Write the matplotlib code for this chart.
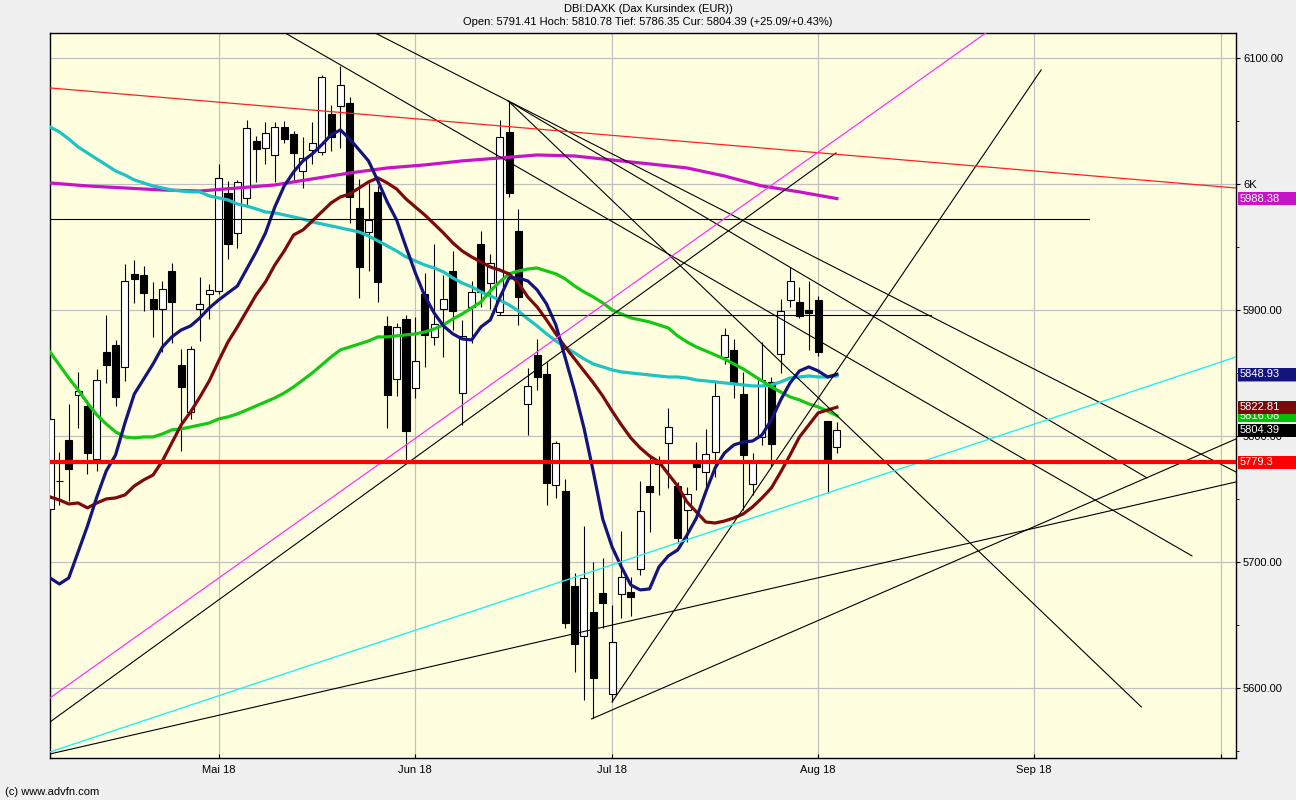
import matplotlib
matplotlib.use("Agg")
import matplotlib.pyplot as plt
from matplotlib.patches import Rectangle
from matplotlib import transforms

plt.rcParams["font.family"] = ["Liberation Sans", "DejaVu Sans"]

# daily candles, x = trading-day index (0 = first visible day)
opens = [5742.0, 5764.5, 5797.0, 5832.5, 5824.0, 5781.7, 5866.7, 5872.0, 5854.8, 5928.6,
         5928.0, 5908.7, 5900.8, 5931.0, 5856.0, 5819.0, 5900.8, 5912.7, 5915.0, 5992.9,
         5961.0, 5988.9, 6034.0, 6028.6, 6023.0, 6045.0, 6039.7, 6010.3, 6027.0, 6025.4,
         6055.6, 6061.9, 6064.3, 5981.0, 5962.0, 5993.7, 5887.3, 5845.0, 5893.0, 5838.0,
         5912.7, 5878.6, 5900.8, 5931.0, 5834.0, 5902.4, 5952.4, 5921.4, 5898.4, 6041.0,
         5962.7, 5825.4, 5864.3, 5849.0, 5761.0, 5756.3, 5681.0, 5641.3, 5660.3, 5675.4,
         5595.2, 5674.6, 5676.2, 5694.4, 5760.3, 5779.0, 5794.4, 5760.3, 5741.3, 5780.2,
         5771.4, 5787.3, 5862.7, 5868.3, 5833.3, 5761.9, 5799.2, 5842.9, 5865.1, 5907.9,
         5906.3, 5900.0, 5907.9, 5811.9, 5791.41]
highs = [5815.0, 5787.0, 5825.0, 5851.0, 5828.6, 5853.0, 5896.0, 5876.0, 5936.5, 5940.0,
         5935.0, 5922.0, 5923.0, 5937.0, 5869.0, 5871.0, 5926.0, 5920.6, 6015.9, 6002.4,
         6003.0, 6050.8, 6038.0, 6049.0, 6049.0, 6050.0, 6042.0, 6037.0, 6049.0, 6086.5,
         6062.7, 6093.7, 6069.0, 6004.0, 6000.8, 5998.4, 5895.0, 5890.0, 5896.0, 5894.4,
         5929.0, 5952.4, 5927.8, 5946.8, 5892.0, 5923.0, 5962.7, 5944.4, 6050.8, 6065.9,
         5980.0, 5854.0, 5877.0, 5858.7, 5796.0, 5765.9, 5691.3, 5728.6, 5700.0, 5703.2,
         5665.9, 5724.6, 5688.1, 5764.3, 5784.1, 5784.1, 5822.2, 5763.5, 5759.5, 5795.2,
         5805.6, 5843.7, 5885.7, 5877.0, 5850.8, 5786.5, 5874.6, 5846.8, 5908.7, 5934.1,
         5918.3, 5923.0, 5911.1, 5811.9, 5810.78]
lows = [5740.0, 5745.0, 5748.0, 5806.0, 5770.0, 5772.0, 5842.0, 5824.0, 5843.7, 5905.6,
        5899.0, 5878.6, 5866.7, 5874.0, 5788.0, 5813.5, 5875.0, 5893.0, 5912.5, 5940.5,
        5949.0, 5981.7, 6001.6, 6016.0, 6001.6, 6032.5, 6001.6, 5996.8, 6016.0, 6023.0,
        6026.0, 6028.6, 5969.0, 5909.5, 5931.0, 5906.3, 5806.3, 5831.7, 5779.4, 5830.0,
        5854.8, 5872.0, 5862.7, 5884.0, 5808.7, 5873.8, 5902.4, 5900.8, 5896.0, 5990.0,
        5888.0, 5800.8, 5836.5, 5745.0, 5750.8, 5647.6, 5612.7, 5590.5, 5576.2, 5647.6,
        5588.9, 5655.6, 5657.1, 5689.7, 5723.8, 5753.2, 5758.7, 5715.1, 5715.9, 5757.1,
        5759.5, 5767.5, 5857.1, 5830.2, 5741.3, 5753.2, 5792.9, 5775.4, 5850.0, 5902.4,
        5893.7, 5868.3, 5863.5, 5754.8, 5786.35]
closes = [5813.5, 5764.0, 5774.0, 5836.0, 5786.5, 5844.4, 5856.0, 5831.0, 5923.0, 5924.6,
          5913.5, 5900.8, 5916.7, 5906.3, 5839.0, 5869.0, 5904.8, 5915.9, 6004.8, 5952.4,
          6001.6, 6044.4, 6027.8, 6040.5, 6045.0, 6035.7, 6024.6, 6020.6, 6032.5, 6085.0,
          6037.3, 6078.6, 5989.7, 5934.0, 5971.4, 5922.0, 5832.5, 5886.5, 5804.0, 5859.5,
          5880.0, 5889.0, 5908.7, 5899.0, 5879.4, 5914.3, 5914.3, 5937.3, 6037.3, 5992.9,
          5910.0, 5839.7, 5846.8, 5762.7, 5794.4, 5651.6, 5634.9, 5687.3, 5607.9, 5667.5,
          5636.5, 5688.1, 5672.2, 5740.5, 5755.6, 5778.0, 5807.1, 5719.0, 5754.0, 5775.4,
          5785.7, 5831.7, 5880.2, 5842.9, 5784.9, 5780.2, 5844.4, 5793.7, 5899.2, 5923.0,
          5895.2, 5897.6, 5866.7, 5779.3, 5804.39]

# moving averages, one value per candle
ma_navy = [5687.3, 5682.5, 5687.3, 5707.9, 5728.6, 5751.6, 5772.2, 5784.9, 5810.3, 5833.3,
           5845.2, 5857.1, 5870.6, 5878.6, 5884.1, 5887.3, 5893.7, 5901.6, 5907.9, 5913.5,
           5919.0, 5932.5, 5946.0, 5961.1, 5981.7, 5998.4, 6009.5, 6018.3, 6023.8, 6031.0,
           6038.9, 6042.9, 6035.7, 6027.0, 6018.3, 6002.4, 5985.7, 5971.4, 5950.0, 5929.4,
           5911.1, 5897.6, 5887.3, 5881.0, 5877.0, 5876.2, 5886.5, 5892.1, 5909.5, 5925.4,
           5925.4, 5923.0, 5915.9, 5904.8, 5888.1, 5861.9, 5835.7, 5806.3, 5771.4, 5734.1,
           5711.9, 5696.0, 5681.7, 5677.8, 5678.6, 5696.0, 5704.8, 5709.5, 5721.4, 5734.9,
           5755.6, 5774.6, 5786.5, 5792.9, 5795.2, 5796.0, 5800.8, 5812.7, 5828.6, 5842.1,
           5851.6, 5854.8, 5851.6, 5846.8, 5848.93]
ma_maroon = [5751.6, 5749.2, 5746.0, 5746.8, 5742.9, 5746.8, 5750.0, 5750.8, 5753.2, 5760.3,
             5765.1, 5769.0, 5780.2, 5794.4, 5808.7, 5819.0, 5830.9, 5843.7, 5859.5, 5874.6,
             5886.5, 5899.2, 5911.9, 5922.2, 5935.7, 5946.8, 5959.5, 5963.5, 5970.6, 5977.8,
             5984.9, 5989.7, 5992.1, 5996.8, 6001.6, 6004.8, 6000.8, 5996.0, 5988.1, 5981.7,
             5975.4, 5968.3, 5961.1, 5953.2, 5946.8, 5942.1, 5938.1, 5934.1, 5931.7, 5928.6,
             5921.4, 5910.3, 5902.4, 5892.1, 5881.0, 5870.6, 5861.1, 5851.6, 5842.1, 5831.7,
             5819.8, 5808.7, 5798.4, 5790.5, 5784.1, 5779.4, 5769.8, 5760.3, 5747.6, 5739.7,
             5731.7, 5730.9, 5732.5, 5734.9, 5738.1, 5743.7, 5750.8, 5758.7, 5771.4, 5784.9,
             5799.2, 5808.7, 5818.3, 5820.6, 5822.81]
ma_green = [5866.7, 5856.3, 5846.0, 5836.5, 5826.2, 5816.7, 5809.5, 5803.2, 5799.2, 5798.4,
            5799.2, 5799.2, 5801.6, 5804.8, 5805.6, 5807.1, 5808.7, 5810.3, 5813.5, 5815.1,
            5817.5, 5820.6, 5823.8, 5827.0, 5830.2, 5834.1, 5838.9, 5844.4, 5850.0, 5856.3,
            5862.7, 5868.3, 5870.6, 5873.0, 5875.4, 5878.6, 5878.6, 5879.4, 5880.2, 5881.0,
            5882.5, 5884.9, 5888.1, 5892.9, 5896.8, 5901.6, 5906.3, 5915.1, 5922.2, 5928.6,
            5930.9, 5932.5, 5933.3, 5930.9, 5928.6, 5924.6, 5919.0, 5914.3, 5910.3, 5905.6,
            5900.0, 5896.8, 5893.7, 5892.1, 5890.5, 5888.1, 5885.7, 5879.4, 5874.6, 5870.6,
            5867.5, 5864.3, 5861.1, 5857.1, 5853.2, 5848.4, 5843.7, 5838.9, 5834.9, 5831.0,
            5828.6, 5825.4, 5823.0, 5819.8, 5816.08]
ma_cyan = [6045.2, 6041.3, 6035.7, 6029.4, 6024.6, 6019.8, 6015.1, 6010.3, 6007.1, 6003.2,
           6000.8, 5998.4, 5996.8, 5995.2, 5994.4, 5993.7, 5993.7, 5990.5, 5988.9, 5987.3,
           5984.1, 5982.5, 5980.2, 5977.8, 5977.0, 5975.4, 5973.8, 5972.2, 5969.8, 5968.3,
           5966.7, 5965.1, 5963.5, 5961.9, 5958.7, 5954.8, 5950.8, 5946.8, 5942.1, 5938.9,
           5935.7, 5933.3, 5930.2, 5925.4, 5921.4, 5918.3, 5914.3, 5911.1, 5907.9, 5904.0,
           5899.2, 5892.9, 5887.3, 5881.0, 5875.4, 5870.6, 5865.9, 5861.1, 5857.1, 5854.8,
           5852.4, 5850.8, 5850.0, 5849.2, 5848.4, 5847.6, 5846.8, 5846.8, 5846.0, 5844.4,
           5843.7, 5842.9, 5842.1, 5841.3, 5840.5, 5839.7, 5839.7, 5840.5, 5842.9, 5846.0,
           5846.8, 5847.6, 5846.8, 5846.8, 5847.60]
# slow average, read every 4th day
ma_mag_idx = [0, 4, 8, 12, 16, 20, 24, 28, 32, 36, 40, 44, 48, 52, 56, 60, 64, 68, 72, 76, 80, 84]
ma_magenta = [6000.8, 5998.4, 5996.8, 5995.2, 5994.4, 5996.8, 5999.2, 6004.0, 6008.7, 6012.7, 6015.1,
              6018.3, 6020.6, 6023.0, 6022.2, 6019.0, 6015.9, 6012.7, 6006.3, 5998.4, 5993.7, 5988.38]

# hand drawn lines: (x0, p0, x1, p1) in day index / price
black_lines = [
    (0.0, 5573.0, 83.9, 6024.6),
    (0.0, 5547.6, 126.6, 5763.5),
    (57.8, 5575.4, 126.6, 5797.6),
    (60.0, 5588.9, 105.8, 6090.5),
    (34.7, 6119.8, 126.6, 5771.4),
    (48.9, 6065.9, 117.1, 5766.7),
    (25.1, 6119.8, 121.9, 5704.8),
    (48.9, 6065.9, 116.5, 5584.9),
    (0.0, 5972.2, 110.9, 5972.2),
    (47.7, 5896.0, 94.0, 5896.0),
]
red_line = (0.0, 6076.2, 126.6, 5996.8)
magenta_line = (0.0, 5592.1, 100.5, 6123.0)
cyan_line = (0.0, 5549.2, 126.6, 5862.7)
prev_close = 5779.3

month_pos = [18, 39, 60, 82, 105, 125]
month_labels = ["Mai 18", "Jun 18", "Jul 18", "Aug 18", "Sep 18", ""]

NAVY = "#14147f"
MAROON = "#7d0a0a"
GREEN = "#14c814"
CYAN = "#1ec3c3"
MAGENTA = "#c814c8"

fig = plt.figure(figsize=(12.96, 8.0), dpi=100, facecolor="#f0f0f0")
ax = fig.add_axes([50 / 1296, 1 - 758 / 800, 1186 / 1296, 725 / 800])
ax.set_facecolor("#ffffdf")
ax.set_xlim(0, 126.6)
ax.set_ylim(5544.4, 6119.8)

# grid
ax.set_yticks([5600, 5700, 5800, 5900, 6000, 6100])
ax.set_yticklabels(["5600.00", "5700.00", "5800.00", "5900.00", "6K", "6100.00"])
ax.set_yticks([5550, 5650, 5750, 5850, 5950, 6050], minor=True)
ax.set_xticks(month_pos)
ax.set_xticklabels(month_labels)
ax.grid(True, which="major", color="#c0c0c0", linewidth=0.9, zorder=0)
ax.set_axisbelow(True)
ax.yaxis.tick_right()
ax.tick_params(axis="y", which="major", length=3, labelsize=8, pad=2, colors="black")
ax.tick_params(axis="y", which="minor", length=2)
ax.tick_params(axis="x", length=3, direction="in", labelsize=8, pad=5)
for s in ax.spines.values():
    s.set_linewidth(1.0)

# candles
idx = list(range(len(opens)))
ax.vlines(idx, lows, highs, color="black", linewidth=0.8, zorder=2)
bottoms = [min(o, c) for o, c in zip(opens, closes)]
heights = [max(abs(c - o), 0.6) for o, c in zip(opens, closes)]
colors = ["white" if c >= o else "black" for o, c in zip(opens, closes)]
ax.bar(idx, heights, bottom=bottoms, width=0.75, color=colors,
       edgecolor="black", linewidth=0.8, zorder=3)

# moving averages
ax.plot(ma_mag_idx, ma_magenta, color=MAGENTA, linewidth=2.3, zorder=4)
ax.plot(idx, ma_cyan, color=CYAN, linewidth=2.3, zorder=4)
ax.plot(idx, ma_green, color=GREEN, linewidth=2.3, zorder=4)
ax.plot(idx, ma_maroon, color=MAROON, linewidth=2.3, zorder=4)
ax.plot(idx, ma_navy, color=NAVY, linewidth=2.3, zorder=4)

# trend lines
for x0, p0, x1, p1 in black_lines:
    ax.plot([x0, x1], [p0, p1], color="black", linewidth=0.8, zorder=5)
ax.plot(red_line[0::2], red_line[1::2], color="#ff2020", linewidth=0.9, zorder=5)
ax.plot(magenta_line[0::2], magenta_line[1::2], color="#ff30ff", linewidth=0.9, zorder=5)
ax.plot(cyan_line[0::2], cyan_line[1::2], color="#20f0f0", linewidth=1.0, zorder=5)
ax.axhline(prev_close, color="#ff0000", linewidth=3.0, zorder=5)

# value boxes on the price axis, later ones drawn over earlier ones
trans = transforms.blended_transform_factory(fig.transFigure, ax.transData)
box_h = 13 / 1.26
tags = [
    (ma_magenta[-1], MAGENTA, "%.2f" % ma_magenta[-1]),
    (ma_cyan[-1], CYAN, "%.2f" % ma_cyan[-1]),
    (ma_navy[-1], NAVY, "%.2f" % ma_navy[-1]),
    (ma_green[-1], "#00c000", "%.2f" % ma_green[-1]),
    (ma_maroon[-1], MAROON, "%.2f" % ma_maroon[-1]),
    (closes[-1], "black", "%.2f" % closes[-1]),
    (prev_close, "#ff0000", "%.1f" % prev_close),
]
for k, (p, col, txt) in enumerate(tags):
    ax.add_patch(Rectangle((1238 / 1296, p - box_h / 2), 58 / 1296, box_h,
                           transform=trans, facecolor=col, edgecolor="none",
                           clip_on=False, zorder=20 + 2 * k))
    ax.text(1240 / 1296, p, txt, transform=trans, color="white", fontsize=8,
            va="center", ha="left", clip_on=False, zorder=21 + 2 * k)

fig.text(0.5, 1 - 9 / 800, "DBI:DAXK (Dax Kursindex (EUR))", ha="center", va="center", fontsize=8)
fig.text(0.5, 1 - 22 / 800,
         "Open: 5791.41 Hoch: 5810.78 Tief: 5786.35 Cur: 5804.39 (+25.09/+0.43%)",
         ha="center", va="center", fontsize=8)
fig.text(5 / 1296, 1 - 792 / 800, "(c) www.advfn.com", ha="left", va="center", fontsize=8)

fig.savefig("out.png", dpi=100, facecolor=fig.get_facecolor())
